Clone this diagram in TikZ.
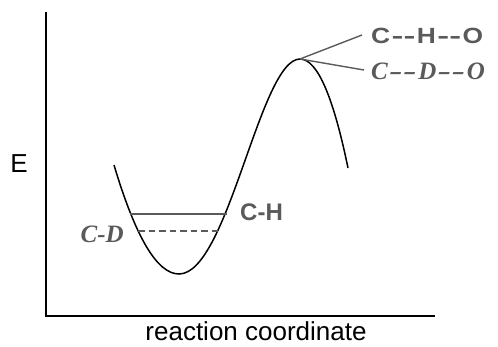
\documentclass[tikz,border=0pt]{standalone}
\usepackage{fontspec}
\setmainfont{Liberation Sans}
\newfontfamily\serifbi{Liberation Serif}
\usetikzlibrary{calc}
\definecolor{lblgray}{HTML}{5A5A5A}
\newcommand\sdsh{\scalebox{1.35}[1]{-}}
\newcommand\rdsh{\kern0.4pt\scalebox{1.6}[1]{-}\kern0.4pt}
\newcommand\sgap{\kern1.2pt}
\newcommand\rgap{\kern1.1pt}
\tikzset{
  axis/.style={line width=1.8pt, black},
  curve/.style={line width=1.5pt, black},
  level/.style={line width=1.8pt, lblgray},
  leader/.style={line width=1.4pt, lblgray},
  sanslbl/.style={font=\fontsize{24}{28}\selectfont\bfseries, text=lblgray, inner sep=0pt},
  tslbl/.style={font=\fontsize{22}{26}\selectfont\bfseries, text=lblgray, inner sep=0pt},
  seriflbl/.style={font=\serifbi\fontsize{25}{29}\selectfont\bfseries\itshape, text=lblgray, inner sep=0pt},
  axislbl/.style={font=\fontsize{26}{31}\selectfont, inner sep=0pt}
}
\begin{document}
\begin{tikzpicture}[x=1pt,y=-1pt]
\useasboundingbox (0,0) rectangle (498,347);
% axes
\coordinate (top) at (46,12);
\coordinate (orig) at (46,316);
\coordinate (right) at (435,316);
\draw[axis] (top) -- (orig) -- (right);
\node[axislbl] (E) at (19,164) {E};
\node[axislbl, anchor=base] (rc) at (256,341) {reaction coordinate};
% potential curve
\coordinate (s) at (114,165);
\coordinate (min) at (179,274);
\coordinate (pk) at (300,59);
\coordinate (e) at (348,168);
\draw[curve] (s) .. controls (135.7,237.7) and (157.3,274) .. (min)
  .. controls (228,274) and (260,59) .. (pk)
  .. controls (318,59) and (334,100) .. (e);
% levels
\coordinate (ch1) at (130,214);
\coordinate (ch2) at (227,214);
\coordinate (cd1) at (138,231);
\coordinate (cd2) at (219,231);
\draw[level] (ch1) -- (ch2);
\draw[level, dash pattern=on 6.5pt off 4pt] (cd1) -- (cd2);
\node[sanslbl, anchor=west] (CH) at (240,212) {C-H};
\node[seriflbl, anchor=east] (CD) at (124,234) {C-D};
% transition state labels
\node[tslbl, anchor=west] (CHO) at (371,36) {\scalebox{1.2}[1]{C\sgap\sdsh\sdsh\sgap H\sgap\sdsh\sdsh\sgap O}};
\node[seriflbl, anchor=west] (CDO) at (371,71) {C\rgap\rdsh\rdsh\rgap D\rgap\rdsh\rdsh\rgap O};
\coordinate (l1) at (362,35);
\coordinate (l2) at (364,70);
\draw[leader] (pk) -- (l1);
\draw[leader] (pk) -- (l2);
\end{tikzpicture}
\end{document}
